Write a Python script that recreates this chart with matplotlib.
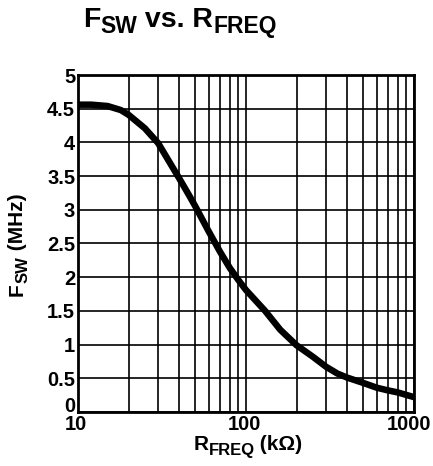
import matplotlib
matplotlib.use("Agg")
import matplotlib.pyplot as plt
from matplotlib.ticker import FixedLocator, NullFormatter
from matplotlib.transforms import IdentityTransform, ScaledTranslation

# curve (R in kOhm, F in MHz)
r_kohm = [10, 12, 15, 18, 20, 25, 30, 36, 40, 46, 50, 60, 70, 80, 90, 100,
          130, 160, 200, 250, 300, 350, 400, 500, 600, 700, 800, 1000]
f_mhz = [4.56, 4.56, 4.54, 4.48, 4.41, 4.21, 3.99, 3.66, 3.47, 3.21, 3.05, 2.68, 2.38, 2.14, 1.96, 1.81,
         1.50, 1.22, 0.99, 0.82, 0.67, 0.57, 0.51, 0.43, 0.36, 0.32, 0.29, 0.22]

y_ticks = [0, 0.5, 1, 1.5, 2, 2.5, 3, 3.5, 4, 4.5, 5]
y_labels = ["0", "0.5", "1", "1.5", "2", "2.5", "3", "3.5", "4", "4.5", "5"]
x_ticks = [10, 100, 1000]
x_labels = ["10", "100", "1000"]
x_minor = [20, 30, 40, 50, 60, 70, 80, 90, 200, 300, 400, 500, 600, 700, 800, 900]

plt.rcParams['font.family'] = ['Liberation Sans', 'DejaVu Sans']
plt.rcParams['font.weight'] = 'bold'

fig = plt.figure(figsize=(4.33, 4.66), dpi=100)
ax = fig.add_axes([0.180, 0.116, 0.776, 0.723])

ax.plot(r_kohm, f_mhz, color='black', linewidth=4.7, solid_joinstyle='round', zorder=3)

ax.set_xscale('log')
ax.set_xlim(10, 1000)
ax.set_ylim(0, 5)

ax.set_yticks(y_ticks)
ax.set_yticklabels(y_labels)
ax.set_xticks(x_ticks)
ax.set_xticklabels(x_labels)
ax.xaxis.set_minor_locator(FixedLocator(x_minor))
ax.xaxis.set_minor_formatter(NullFormatter())

ax.grid(True, which='both', color='black', linewidth=1.2)
ax.tick_params(which='both', length=0, labelsize=14.5)
ax.tick_params(axis='y', pad=2)
ax.tick_params(axis='x', pad=2.5)
for s in ax.spines.values():
    s.set_linewidth(2)

# small nudges of tick labels like in the reference
for i, lab in enumerate(ax.get_xticklabels()):
    dx = -5 if i == len(x_labels) - 1 else -2
    lab.set_transform(lab.get_transform() + ScaledTranslation(dx / 100, 0, fig.dpi_scale_trans))
ylab0 = ax.get_yticklabels()[0]
ylab0.set_transform(ylab0.get_transform() + ScaledTranslation(0, 7 / 100, fig.dpi_scale_trans))


def rich_text(pieces, cx, cy, rotation=0):
    # pieces: (text, size, drop in px); centred at (cx, cy) in pixels from bottom-left
    renderer = fig.canvas.get_renderer()
    items = []
    for s, size, drop in pieces:
        t = fig.text(0, 0, s, fontsize=size, fontweight='bold', transform=IdentityTransform(),
                     ha='left', va='baseline', rotation=rotation, rotation_mode='anchor')
        bb = t.get_window_extent(renderer)
        items.append((t, bb.height if rotation else bb.width, drop))
    pos = -sum(w for _, w, _ in items) / 2
    for t, w, drop in items:
        if rotation:
            t.set_position((cx + drop, cy + pos))
        else:
            t.set_position((cx + pos, cy - drop))
        pos += w


H = 466
rich_text([("F", 20.5, 0), ("SW", 16.5, 6), (" vs. R", 20.5, 0), ("FREQ", 16.5, 6)], 180, H - 27)
rich_text([("R", 15, 0), ("FREQ", 12, 5), (" (kΩ)", 15, 0)], 248, H - 450)
rich_text([("F", 15, 0), ("SW", 12, 5), (" (MHz)", 15, 0)], 23, H - 245, rotation=90)

fig.savefig("out.png", dpi=100)
